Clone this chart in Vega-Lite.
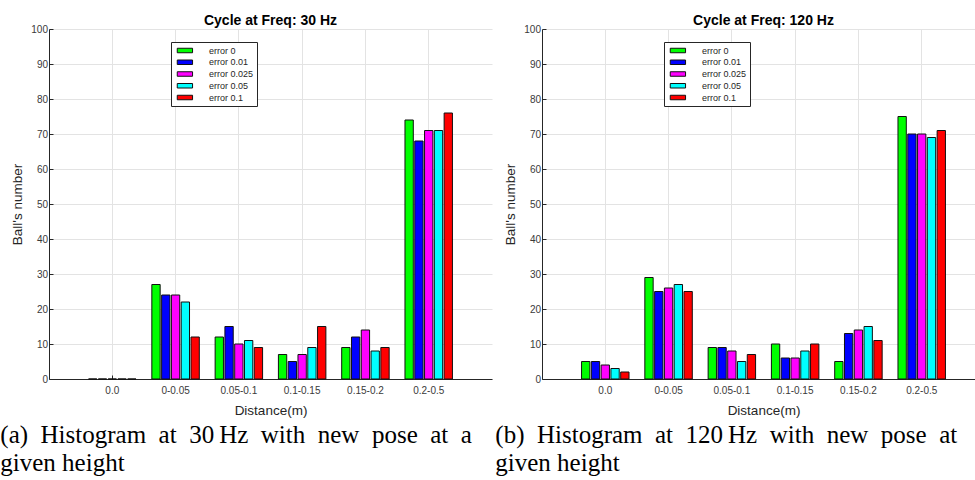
{
  "$schema": "https://vega.github.io/schema/vega-lite/v6.json",
  "background": "white",
  "padding": {"left": 0, "top": 14, "right": 0, "bottom": 0},
  "spacing": 3,
  "resolve": {"scale": {"fill": "independent"}, "legend": {"fill": "independent"}},
  "config": {
    "view": {"stroke": null},
    "axis": {
      "domainColor": "#262626",
      "domainWidth": 1,
      "tickColor": "#262626",
      "tickSize": -4,
      "labelFont": "Liberation Sans",
      "labelFontSize": 10,
      "labelColor": "#3a3a3a",
      "titleFont": "Liberation Sans",
      "titleFontSize": 13.5,
      "titleFontWeight": "normal",
      "titleColor": "#262626",
      "gridColor": "#e3e3e3",
      "gridWidth": 1
    },
    "title": {"font": "Liberation Sans", "fontSize": 14, "fontWeight": "bold", "color": "#000"}
  },
  "datasets": {
    "hz30": [
      {"dist": "0.0", "error": "error 0", "count": 0},
      {"dist": "0.0", "error": "error 0.01", "count": 0},
      {"dist": "0.0", "error": "error 0.025", "count": 0},
      {"dist": "0.0", "error": "error 0.05", "count": 0},
      {"dist": "0.0", "error": "error 0.1", "count": 0},
      {"dist": "0-0.05", "error": "error 0", "count": 27},
      {"dist": "0-0.05", "error": "error 0.01", "count": 24},
      {"dist": "0-0.05", "error": "error 0.025", "count": 24},
      {"dist": "0-0.05", "error": "error 0.05", "count": 22},
      {"dist": "0-0.05", "error": "error 0.1", "count": 12},
      {"dist": "0.05-0.1", "error": "error 0", "count": 12},
      {"dist": "0.05-0.1", "error": "error 0.01", "count": 15},
      {"dist": "0.05-0.1", "error": "error 0.025", "count": 10},
      {"dist": "0.05-0.1", "error": "error 0.05", "count": 11},
      {"dist": "0.05-0.1", "error": "error 0.1", "count": 9},
      {"dist": "0.1-0.15", "error": "error 0", "count": 7},
      {"dist": "0.1-0.15", "error": "error 0.01", "count": 5},
      {"dist": "0.1-0.15", "error": "error 0.025", "count": 7},
      {"dist": "0.1-0.15", "error": "error 0.05", "count": 9},
      {"dist": "0.1-0.15", "error": "error 0.1", "count": 15},
      {"dist": "0.15-0.2", "error": "error 0", "count": 9},
      {"dist": "0.15-0.2", "error": "error 0.01", "count": 12},
      {"dist": "0.15-0.2", "error": "error 0.025", "count": 14},
      {"dist": "0.15-0.2", "error": "error 0.05", "count": 8},
      {"dist": "0.15-0.2", "error": "error 0.1", "count": 9},
      {"dist": "0.2-0.5", "error": "error 0", "count": 74},
      {"dist": "0.2-0.5", "error": "error 0.01", "count": 68},
      {"dist": "0.2-0.5", "error": "error 0.025", "count": 71},
      {"dist": "0.2-0.5", "error": "error 0.05", "count": 71},
      {"dist": "0.2-0.5", "error": "error 0.1", "count": 76}
    ],
    "hz120": [
      {"dist": "0.0", "error": "error 0", "count": 5},
      {"dist": "0.0", "error": "error 0.01", "count": 5},
      {"dist": "0.0", "error": "error 0.025", "count": 4},
      {"dist": "0.0", "error": "error 0.05", "count": 3},
      {"dist": "0.0", "error": "error 0.1", "count": 2},
      {"dist": "0-0.05", "error": "error 0", "count": 29},
      {"dist": "0-0.05", "error": "error 0.01", "count": 25},
      {"dist": "0-0.05", "error": "error 0.025", "count": 26},
      {"dist": "0-0.05", "error": "error 0.05", "count": 27},
      {"dist": "0-0.05", "error": "error 0.1", "count": 25},
      {"dist": "0.05-0.1", "error": "error 0", "count": 9},
      {"dist": "0.05-0.1", "error": "error 0.01", "count": 9},
      {"dist": "0.05-0.1", "error": "error 0.025", "count": 8},
      {"dist": "0.05-0.1", "error": "error 0.05", "count": 5},
      {"dist": "0.05-0.1", "error": "error 0.1", "count": 7},
      {"dist": "0.1-0.15", "error": "error 0", "count": 10},
      {"dist": "0.1-0.15", "error": "error 0.01", "count": 6},
      {"dist": "0.1-0.15", "error": "error 0.025", "count": 6},
      {"dist": "0.1-0.15", "error": "error 0.05", "count": 8},
      {"dist": "0.1-0.15", "error": "error 0.1", "count": 10},
      {"dist": "0.15-0.2", "error": "error 0", "count": 5},
      {"dist": "0.15-0.2", "error": "error 0.01", "count": 13},
      {"dist": "0.15-0.2", "error": "error 0.025", "count": 14},
      {"dist": "0.15-0.2", "error": "error 0.05", "count": 15},
      {"dist": "0.15-0.2", "error": "error 0.1", "count": 11},
      {"dist": "0.2-0.5", "error": "error 0", "count": 75},
      {"dist": "0.2-0.5", "error": "error 0.01", "count": 70},
      {"dist": "0.2-0.5", "error": "error 0.025", "count": 70},
      {"dist": "0.2-0.5", "error": "error 0.05", "count": 69},
      {"dist": "0.2-0.5", "error": "error 0.1", "count": 71}
    ]
  },
  "hconcat": [
    {
      "title": {
        "text": ["(a)\u2002Histogram\u2002at\u200230\u2009Hz\u2002with\u2002new\u2002pose\u2002at\u2002a", "given height"],
        "orient": "bottom", "anchor": "start", "frame": "bounds", "dx": -10,
        "font": "Liberation Serif", "fontSize": 25, "fontWeight": "normal", "color": "#000",
        "lineHeight": 28, "offset": 6
      },
      "vconcat": [
        {
          "width": 443,
          "height": 350,
          "title": {"text": "Cycle at Freq: 30 Hz", "offset": -4, "frame": "group"},
          "data": {"name": "hz30"},
          "mark": {"type": "bar", "stroke": "#111", "strokeWidth": 1},
          "encoding": {
            "x": {
              "field": "dist", "type": "nominal",
              "sort": ["0.0", "0-0.05", "0.05-0.1", "0.1-0.15", "0.15-0.2", "0.2-0.5"],
              "scale": {"paddingInner": 0.25, "paddingOuter": 0.625},
              "axis": {"title": "Distance(m)", "labelAngle": 0, "labelPadding": 10, "titlePadding": 8, "bandPosition": 0.5, "grid": true}
            },
            "xOffset": {
              "field": "error", "type": "nominal",
              "sort": ["error 0", "error 0.01", "error 0.025", "error 0.05", "error 0.1"],
              "scale": {"paddingInner": 0.15, "paddingOuter": 0}
            },
            "y": {
              "field": "count", "type": "quantitative",
              "scale": {"domain": [0, 100], "nice": false},
              "axis": {"title": "Ball's number", "values": [0, 10, 20, 30, 40, 50, 60, 70, 80, 90, 100], "labelPadding": 5.5, "titlePadding": 6.5, "grid": true}
            },
            "fill": {
              "field": "error", "type": "nominal",
              "scale": {"domain": ["error 0", "error 0.01", "error 0.025", "error 0.05", "error 0.1"], "range": ["#00ff00", "#0000ff", "#ff00ff", "#00ffff", "#ff0000"]},
              "legend": {
                "title": null, "orient": "none", "legendX": 122, "legendY": 13,
                "symbolType": "M-0.5,-0.5H2.9V0.5H-0.5Z", "symbolSize": 81,
                "symbolStrokeColor": "#111", "symbolStrokeWidth": 1, "symbolOpacity": 1,
                "labelFont": "Liberation Sans", "labelFontSize": 9, "labelColor": "#262626", "labelOffset": 24.6,
                "strokeColor": "#262626", "fillColor": "#ffffff", "padding": 3.5, "rowPadding": 1.75
              }
            }
          }
        }
      ]
    },
    {
      "title": {
        "text": ["(b)\u2002Histogram\u2002at\u2002120\u2009Hz\u2002with\u2002new\u2002pose\u2002at", "given height"],
        "orient": "bottom", "anchor": "start", "frame": "bounds", "dx": -8,
        "font": "Liberation Serif", "fontSize": 25, "fontWeight": "normal", "color": "#000",
        "lineHeight": 28, "offset": 6
      },
      "vconcat": [
        {
          "width": 443,
          "height": 350,
          "title": {"text": "Cycle at Freq: 120 Hz", "offset": -4, "frame": "group"},
          "data": {"name": "hz120"},
          "mark": {"type": "bar", "stroke": "#111", "strokeWidth": 1},
          "encoding": {
            "x": {
              "field": "dist", "type": "nominal",
              "sort": ["0.0", "0-0.05", "0.05-0.1", "0.1-0.15", "0.15-0.2", "0.2-0.5"],
              "scale": {"paddingInner": 0.25, "paddingOuter": 0.625},
              "axis": {"title": "Distance(m)", "labelAngle": 0, "labelPadding": 10, "titlePadding": 8, "bandPosition": 0.5, "grid": true}
            },
            "xOffset": {
              "field": "error", "type": "nominal",
              "sort": ["error 0", "error 0.01", "error 0.025", "error 0.05", "error 0.1"],
              "scale": {"paddingInner": 0.15, "paddingOuter": 0}
            },
            "y": {
              "field": "count", "type": "quantitative",
              "scale": {"domain": [0, 100], "nice": false},
              "axis": {"title": "Ball's number", "values": [0, 10, 20, 30, 40, 50, 60, 70, 80, 90, 100], "labelPadding": 5.5, "titlePadding": 6.5, "grid": true}
            },
            "fill": {
              "field": "error", "type": "nominal",
              "scale": {"domain": ["error 0", "error 0.01", "error 0.025", "error 0.05", "error 0.1"], "range": ["#00ff00", "#0000ff", "#ff00ff", "#00ffff", "#ff0000"]},
              "legend": {
                "title": null, "orient": "none", "legendX": 122, "legendY": 13,
                "symbolType": "M-0.5,-0.5H2.9V0.5H-0.5Z", "symbolSize": 81,
                "symbolStrokeColor": "#111", "symbolStrokeWidth": 1, "symbolOpacity": 1,
                "labelFont": "Liberation Sans", "labelFontSize": 9, "labelColor": "#262626", "labelOffset": 24.6,
                "strokeColor": "#262626", "fillColor": "#ffffff", "padding": 3.5, "rowPadding": 1.75
              }
            }
          }
        }
      ]
    }
  ]
}
